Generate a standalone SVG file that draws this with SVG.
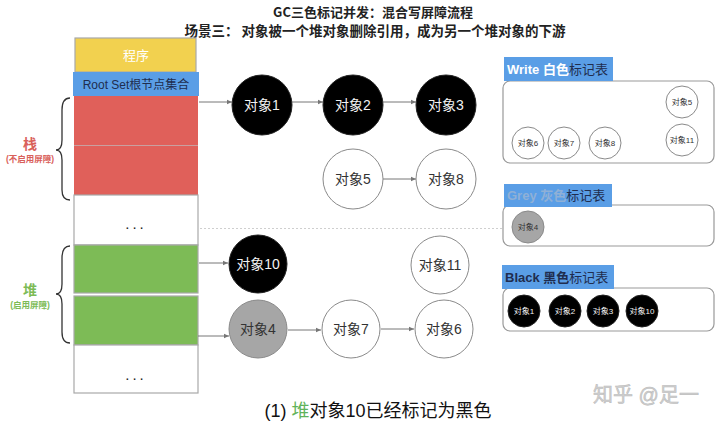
<svg xmlns="http://www.w3.org/2000/svg" width="720" height="426" viewBox="0 0 720 426">
<style>
text{font-family:"Liberation Sans","Noto Sans CJK SC",sans-serif}
.t{font-family:"Noto Sans CJK SC","Liberation Sans",sans-serif;font-weight:bold;font-size:13px;fill:#222;text-anchor:middle}
.box{stroke:#a8a8a8;stroke-width:1.2}
.cb{fill:#000;stroke:#222;stroke-width:1}
.cw{fill:#fff;stroke:#8a8a8a;stroke-width:1}
.cg{fill:#a6a6a6;stroke:#8a8a8a;stroke-width:1}
.lw{font-size:14px;fill:#f2f2f2;text-anchor:middle}
.ld{font-size:14px;fill:#333;text-anchor:middle}
.sw{font-size:8px;fill:#f2f2f2;text-anchor:middle}
.sd{font-size:8px;fill:#333;text-anchor:middle}
.conn line{stroke:#777;stroke-width:1;marker-end:url(#ah)}
.tbl{fill:#fff;stroke:#999;stroke-width:1.2}
.lab{fill:#5a9ee6}
</style>
<defs>
<marker id="ah" markerWidth="6" markerHeight="6" refX="5" refY="3" orient="auto" markerUnits="userSpaceOnUse">
<path d="M0,0.8 L5,3 L0,5.2 Z" fill="#777"/>
</marker>
</defs>
<rect width="720" height="426" fill="#fff"/>
<g id="title">
<text class="t" x="373" y="17">GC三色标记并发：混合写屏障流程</text>
<text class="t" x="375" y="36" style="font-size:13.5px">场景三： 对象被一个堆对象删除引用，成为另一个堆对象的下游</text>
</g>
<g id="program">
<rect x="75" y="38" width="121" height="34" fill="#f2d14f" class="box"/>
<text x="136" y="60" font-size="13" fill="#fff" text-anchor="middle">程序</text>
</g>
<g id="rootset">
<rect x="73" y="72" width="126" height="24" fill="#5a9ee6"/>
<text x="136" y="89" font-size="12" fill="#1f2d4f" text-anchor="middle">Root Set根节点集合</text>
</g>
<g id="stack">
<rect x="74" y="96" width="124" height="49" fill="#e0605a"/>
<rect x="74" y="146" width="124" height="49" fill="#e0605a"/>
<line x1="74" y1="145.5" x2="198" y2="145.5" stroke="#c9a0a0" stroke-width="1"/>
<rect x="74" y="195" width="124" height="50" fill="#fff" class="box"/>
<text x="136" y="229" font-size="15" fill="#222" text-anchor="middle" letter-spacing="3">...</text>
<path d="M70,98 Q62,98 62,110 L62,140 Q62,150 56,150 Q62,150 62,160 L62,190 Q62,200 70,200" fill="none" stroke="#333" stroke-width="1.3"/>
<text x="30" y="149" font-size="14" font-weight="bold" fill="#d9605a" text-anchor="middle">栈</text>
<text x="30" y="162" font-size="8.5" font-weight="bold" fill="#d9605a" text-anchor="middle">(不启用屏障)</text>
</g>
<g id="heap">
<rect x="74" y="245" width="124" height="48" fill="#7dbb56" class="box"/>
<rect x="74" y="296" width="124" height="49" fill="#7dbb56" class="box"/>
<rect x="74" y="345" width="124" height="48" fill="#fff" class="box"/>
<text x="136" y="380" font-size="15" fill="#222" text-anchor="middle" letter-spacing="3">...</text>
<path d="M70,246 Q62,246 62,258 L62,284 Q62,294 56,294 Q62,294 62,304 L62,332 Q62,343 70,343" fill="none" stroke="#333" stroke-width="1.3"/>
<text x="30" y="295" font-size="14" font-weight="bold" fill="#7dbb56" text-anchor="middle">堆</text>
<text x="30" y="308" font-size="8.5" font-weight="bold" fill="#7dbb56" text-anchor="middle">(启用屏障)</text>
</g>
<line x1="200" y1="228.5" x2="512" y2="228.5" stroke="#cfcfcf" stroke-width="1" stroke-dasharray="2,2"/>
<g class="conn">
<line x1="199" y1="102" x2="232" y2="102"/>
<line x1="292" y1="102" x2="323" y2="102"/>
<line x1="383" y1="102" x2="416" y2="102"/>
<line x1="383" y1="179" x2="416" y2="179"/>
<line x1="199" y1="263" x2="228" y2="263"/>
<line x1="198" y1="336" x2="229" y2="336"/>
<line x1="288" y1="330" x2="321" y2="330"/>
<line x1="381" y1="329" x2="414" y2="329"/>
</g>
<g id="obj1"><circle cx="262" cy="105" r="30" class="cb"/><text class="lw" x="262" y="110">对象1</text></g>
<g id="obj2"><circle cx="353" cy="105" r="30" class="cb"/><text class="lw" x="353" y="110">对象2</text></g>
<g id="obj3"><circle cx="446" cy="105" r="30" class="cb"/><text class="lw" x="446" y="110">对象3</text></g>
<g id="obj5"><circle cx="353" cy="179" r="30" class="cw"/><text class="ld" x="353" y="184">对象5</text></g>
<g id="obj8"><circle cx="446" cy="179" r="30" class="cw"/><text class="ld" x="446" y="184">对象8</text></g>
<g id="obj10"><circle cx="258" cy="264" r="29" class="cb"/><text class="lw" x="258" y="269">对象10</text></g>
<g id="obj11"><circle cx="440" cy="265" r="29" class="cw"/><text class="ld" x="440" y="270">对象11</text></g>
<g id="obj4"><circle cx="258" cy="329" r="29" class="cg"/><text class="ld" x="258" y="334">对象4</text></g>
<g id="obj7"><circle cx="351" cy="329" r="29" class="cw"/><text class="ld" x="351" y="334">对象7</text></g>
<g id="obj6"><circle cx="444" cy="329" r="29" class="cw"/><text class="ld" x="444" y="334">对象6</text></g>
<g id="white-table">
<rect x="503" y="81" width="211" height="82" rx="7" class="tbl"/>
<rect x="504" y="57" width="109" height="24" class="lab"/>
<text x="507" y="74" font-size="13" font-weight="bold"><tspan fill="#fff">Write 白色</tspan><tspan fill="#1f2d4f" font-weight="normal">标记表</tspan></text>
<circle cx="528" cy="143" r="16" class="cw"/><text class="sd" x="528" y="146">对象6</text>
<circle cx="564" cy="143" r="16" class="cw"/><text class="sd" x="564" y="146">对象7</text>
<circle cx="605" cy="143" r="16" class="cw"/><text class="sd" x="605" y="146">对象8</text>
<circle cx="682" cy="102" r="16" class="cw"/><text class="sd" x="682" y="105">对象5</text>
<circle cx="682" cy="140" r="16" class="cw"/><text class="sd" x="682" y="143">对象11</text>
</g>
<g id="grey-table">
<rect x="503" y="205" width="211" height="41" rx="7" class="tbl"/>
<rect x="504" y="184" width="108" height="23" class="lab"/>
<text x="507" y="200" font-size="13" font-weight="bold"><tspan fill="#8fb0d6">Grey 灰色</tspan><tspan fill="#1f2d4f" font-weight="normal">标记表</tspan></text>
<circle cx="528" cy="227" r="16" class="cg"/><text class="sd" x="528" y="230">对象4</text>
</g>
<g id="black-table">
<rect x="503" y="288" width="211" height="43" rx="7" class="tbl"/>
<rect x="502" y="265" width="112" height="24" class="lab"/>
<text x="505" y="282" font-size="13" font-weight="bold"><tspan fill="#1f2d4f">Black 黑色</tspan><tspan fill="#1f2d4f" font-weight="normal">标记表</tspan></text>
<circle cx="524" cy="311" r="16" class="cb"/><text class="sw" x="524" y="314">对象1</text>
<circle cx="565" cy="311" r="16" class="cb"/><text class="sw" x="565" y="314">对象2</text>
<circle cx="603" cy="311" r="16" class="cb"/><text class="sw" x="603" y="314">对象3</text>
<circle cx="642" cy="311" r="16" class="cb"/><text class="sw" x="642" y="314">对象10</text>
</g>
<text x="646" y="402" font-size="20" fill="#d0d0d0" stroke="#b8b8b8" stroke-width="0.5" text-anchor="middle">知乎 @足一</text>
<g id="caption">
<text x="378" y="417" font-size="18" fill="#111" text-anchor="middle">(1) <tspan fill="#5fb35a">堆</tspan>对象10已经标记为黑色</text>
</g>
</svg>
